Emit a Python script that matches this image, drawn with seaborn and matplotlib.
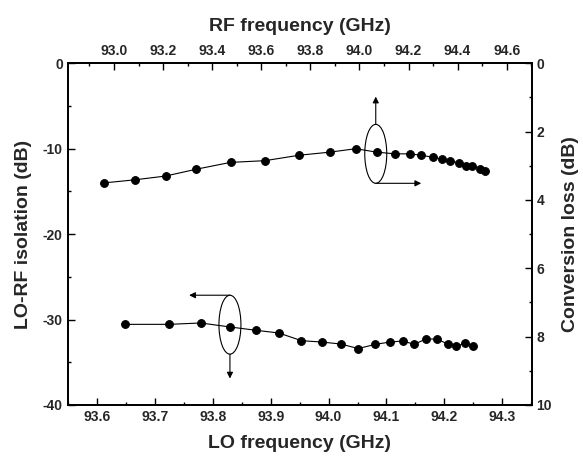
import matplotlib
matplotlib.use("Agg")
import matplotlib.pyplot as plt
import numpy as np
import pandas as pd
import seaborn as sns
from matplotlib.patches import Ellipse
from matplotlib.ticker import MultipleLocator, FormatStrFormatter

sns.set_style("ticks")
plt.rcParams['font.family'] = ['Liberation Sans', 'DejaVu Sans']
plt.rcParams['font.weight'] = 'bold'
plt.rcParams['axes.unicode_minus'] = False

# conversion loss vs RF frequency (top / right axes)
rf_freq = [92.96, 93.085, 93.21, 93.335, 93.475, 93.615, 93.755, 93.88, 93.985,
           94.07, 94.145, 94.205, 94.25, 94.30, 94.335, 94.37, 94.405, 94.435,
           94.46, 94.49, 94.51]
conv_loss = [3.50, 3.41, 3.30, 3.10, 2.90, 2.85, 2.69, 2.60, 2.50,
             2.60, 2.65, 2.65, 2.69, 2.75, 2.81, 2.86, 2.91, 3.00,
             3.00, 3.09, 3.15]

# LO-RF isolation vs LO frequency (bottom / left axes)
lo_freq = [93.649, 93.724, 93.779, 93.83, 93.875, 93.914, 93.953, 93.988, 94.021,
           94.051, 94.081, 94.106, 94.128, 94.148, 94.168, 94.187, 94.206, 94.221,
           94.236, 94.25]
isolation = [-30.56, -30.56, -30.40, -30.87, -31.26, -31.57, -32.47, -32.63, -32.86,
             -33.39, -32.90, -32.63, -32.51, -32.90, -32.28, -32.28, -32.86, -33.13,
             -32.74, -33.10]

df_iso = pd.DataFrame({'lo': lo_freq, 'iso': isolation})
df_cl = pd.DataFrame({'rf': rf_freq, 'cl': conv_loss})

LABEL_SIZE = 14
TICK_SIZE = 10

fig, ax = plt.subplots(figsize=(5.83, 4.62), dpi=100)
fig.subplots_adjust(left=0.116, right=0.912, bottom=0.1234, top=0.863)
ax2 = ax.twinx()
ax3 = ax2.twiny()

line_kw = dict(color='black', marker='o', markersize=5.6, linewidth=0.8,
               markeredgecolor='black', sort=False, estimator=None)
sns.lineplot(data=df_iso, x='lo', y='iso', ax=ax, **line_kw)
sns.lineplot(data=df_cl, x='rf', y='cl', ax=ax3, **line_kw)

ax.set_xlim(93.549, 94.351)
ax.set_ylim(-40, 0)
ax2.set_ylim(10, 0)
ax3.set_xlim(92.811, 94.702)

ax.xaxis.set_major_locator(MultipleLocator(0.1))
ax.xaxis.set_minor_locator(MultipleLocator(0.05))
ax.yaxis.set_major_locator(MultipleLocator(10))
ax.yaxis.set_minor_locator(MultipleLocator(5))
ax2.yaxis.set_major_locator(MultipleLocator(2))
ax2.yaxis.set_minor_locator(MultipleLocator(1))
ax3.xaxis.set_major_locator(MultipleLocator(0.2))
ax3.xaxis.set_minor_locator(MultipleLocator(0.1))
ax.xaxis.set_major_formatter(FormatStrFormatter('%.1f'))
ax3.xaxis.set_major_formatter(FormatStrFormatter('%.1f'))
ax.yaxis.set_major_formatter(FormatStrFormatter('%d'))
ax2.yaxis.set_major_formatter(FormatStrFormatter('%d'))

for a in (ax, ax2, ax3):
    a.tick_params(which='major', direction='in', length=5, width=1.0,
                  labelsize=TICK_SIZE, color='black')
    a.tick_params(which='minor', direction='in', length=2.5, width=1.0, color='black')
    for s in a.spines.values():
        s.set_linewidth(1.1)
        s.set_color('black')
    for lab in a.get_xticklabels() + a.get_yticklabels():
        lab.set_fontweight('bold')

ax.set_xlabel('LO frequency (GHz)', fontsize=LABEL_SIZE, fontweight='bold', labelpad=8)
ax.set_ylabel('LO-RF isolation (dB)', fontsize=LABEL_SIZE, fontweight='bold', labelpad=8)
ax2.set_ylabel('Conversion loss (dB)', fontsize=LABEL_SIZE, fontweight='bold', labelpad=7)
ax3.set_xlabel('RF frequency (GHz)', fontsize=LABEL_SIZE, fontweight='bold', labelpad=10)

# axis indicators: ellipse + arrows (drawn in LO / isolation coordinates)
arrow_kw = dict(arrowstyle='-|>', color='black', lw=0.8, mutation_scale=9,
                shrinkA=0, shrinkB=0)
ax.add_patch(Ellipse((94.0815, -10.6), 0.038, 6.9, fill=False, lw=0.8, color='black'))
ax.annotate('', xy=(94.0815, -3.9), xytext=(94.0815, -7.15), arrowprops=arrow_kw)
ax.annotate('', xy=(94.16, -14.05), xytext=(94.0815, -14.05), arrowprops=arrow_kw)

ax.add_patch(Ellipse((93.8295, -30.6), 0.038, 6.9, fill=False, lw=0.8, color='black'))
ax.annotate('', xy=(93.759, -27.15), xytext=(93.8295, -27.15), arrowprops=arrow_kw)
ax.annotate('', xy=(93.8295, -36.9), xytext=(93.8295, -34.05), arrowprops=arrow_kw)

plt.savefig('out.png', dpi=100)
